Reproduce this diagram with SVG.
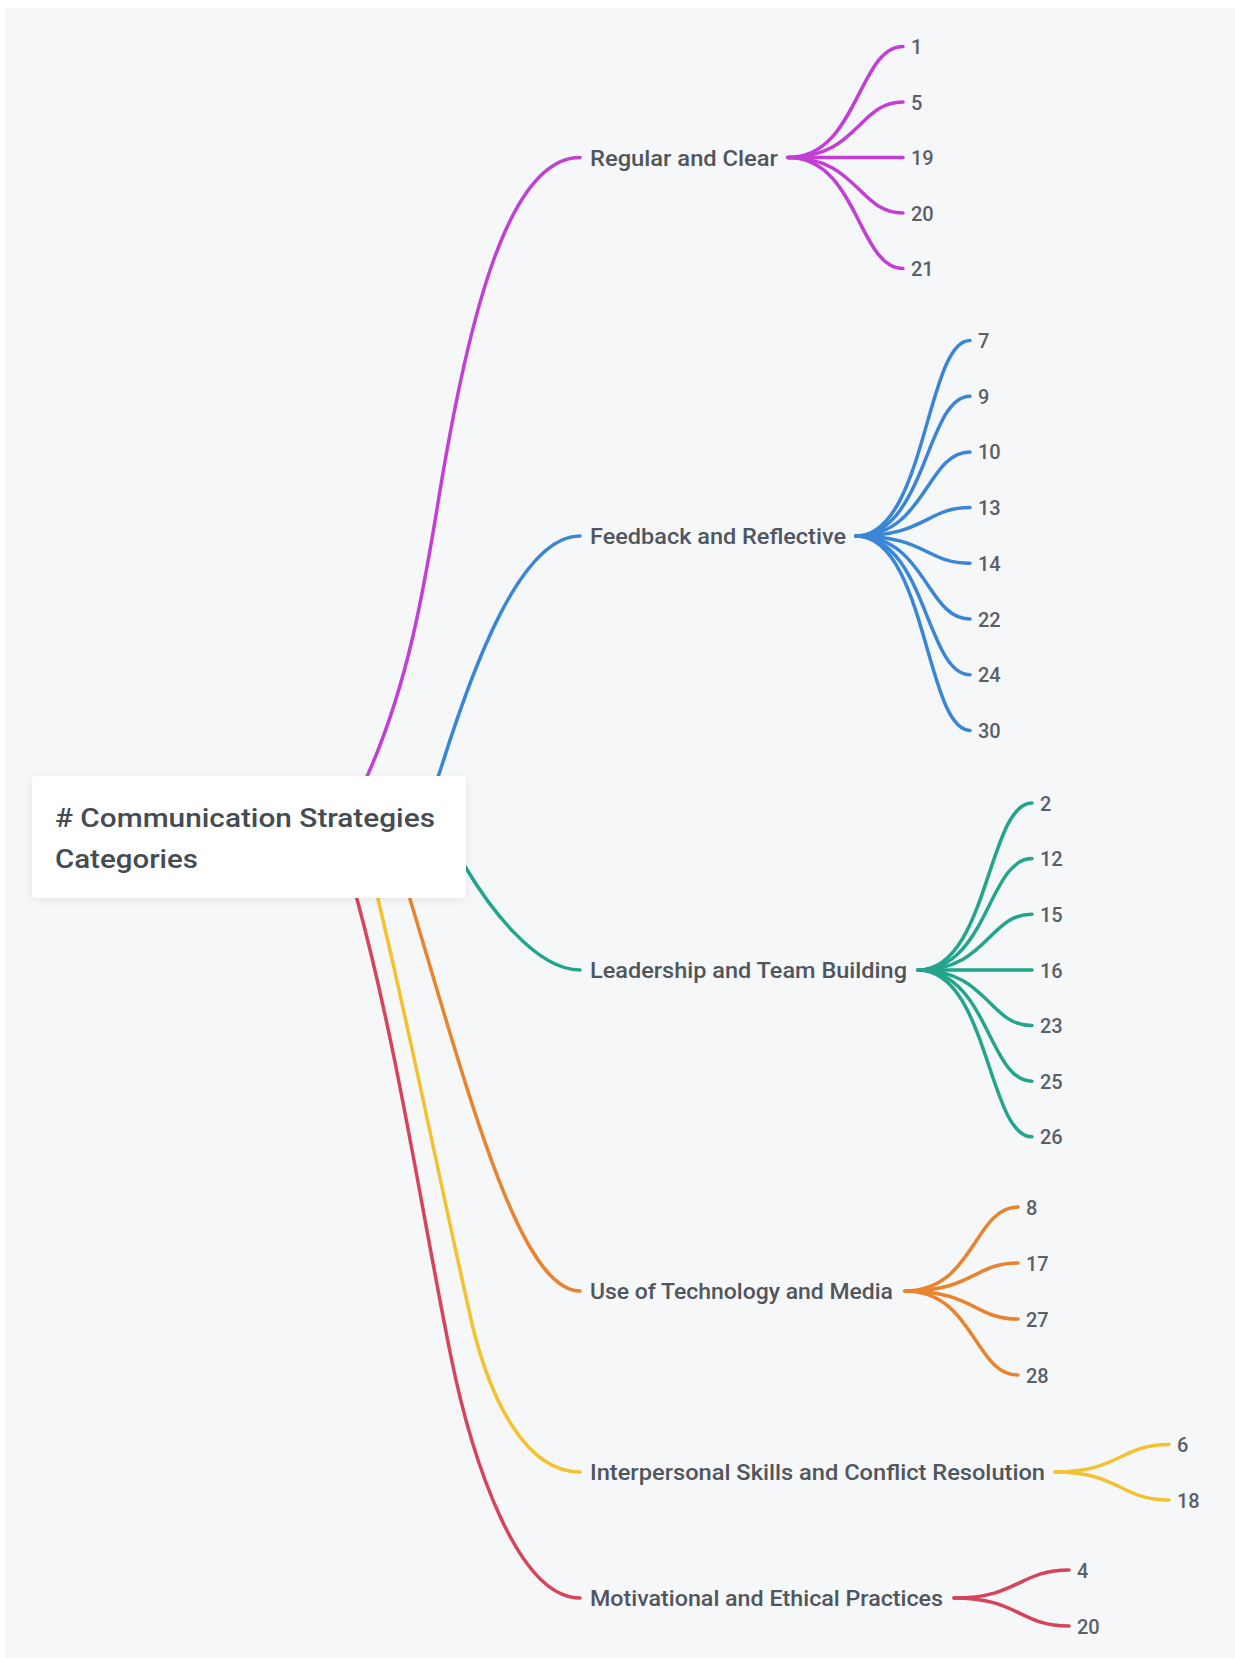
<svg xmlns="http://www.w3.org/2000/svg" width="1235" height="1658" viewBox="0 0 1235 1658">
<style>
.bg{fill:#f6f7f9}
.lnk{fill:none;stroke-width:3.5;stroke-linecap:round}
.purple{stroke:#c23fd6}
.blue{stroke:#3a86d6}
.teal{stroke:#23a58c}
.orange{stroke:#e8842f}
.yellow{stroke:#f3c22e}
.red{stroke:#d6445c}
.root-t{font-family:Roboto,"Liberation Sans",sans-serif;font-size:25px;font-weight:500;fill:#454b52}
.br{font-family:Roboto,"Liberation Sans",sans-serif;font-size:22px;font-weight:500;fill:#50565e}
.num{font-family:Roboto,"Liberation Sans",sans-serif;font-size:20px;font-weight:500;fill:#5a6068}
</style>
<defs>
<filter id="sh" x="-10%" y="-20%" width="120%" height="140%">
<feDropShadow dx="0" dy="2" stdDeviation="4" flood-color="#000" flood-opacity="0.07"/>
</filter>
</defs>
<rect width="1235" height="1658" fill="#ffffff"/>
<rect class="bg" x="5" y="8" width="1230" height="1650"/>

<g id="connectors">
<path class="lnk purple" d="M359,795 L372,765 C408,680 423,594 437,509 C469,309 510,157.5 580,157.5"/>
<path class="lnk blue" d="M433,792 L442,765 C472,670 520,536 580,536"/>
<path class="lnk teal" d="M451,843 L466,868 C488,905 535,970 580,970"/>
<path class="lnk orange" d="M402,873 L410,899 C470,1099 520,1291 580,1291"/>
<path class="lnk yellow" d="M372,873 L378,899 C411.6,1039 441,1188 473,1328 C490.5,1398 525,1472 580,1472"/>
<path class="lnk red" d="M350,873 L357,899 C397.5,1049 420,1202 450,1352 C472,1462 518,1598 580,1598"/>

<path class="lnk purple" d="M788,157.5 C858,157.5 858,46.5 903,46.5"/>
<path class="lnk purple" d="M788,157.5 C858,157.5 858,102 903,102"/>
<path class="lnk purple" d="M788,157.5 L903,157.5"/>
<path class="lnk purple" d="M788,157.5 C858,157.5 858,213 903,213"/>
<path class="lnk purple" d="M788,157.5 C858,157.5 858,268.5 903,268.5"/>

<path class="lnk blue" d="M856,536 C926,536 926,340.5 970,340.5"/>
<path class="lnk blue" d="M856,536 C926,536 926,396.2 970,396.2"/>
<path class="lnk blue" d="M856,536 C926,536 926,451.9 970,451.9"/>
<path class="lnk blue" d="M856,536 C926,536 926,507.6 970,507.6"/>
<path class="lnk blue" d="M856,536 C926,536 926,563.3 970,563.3"/>
<path class="lnk blue" d="M856,536 C926,536 926,619 970,619"/>
<path class="lnk blue" d="M856,536 C926,536 926,674.7 970,674.7"/>
<path class="lnk blue" d="M856,536 C926,536 926,730.4 970,730.4"/>

<path class="lnk teal" d="M918,970 C988,970 988,803 1032,803"/>
<path class="lnk teal" d="M918,970 C988,970 988,858.6 1032,858.6"/>
<path class="lnk teal" d="M918,970 C988,970 988,914.2 1032,914.2"/>
<path class="lnk teal" d="M918,970 L1032,970"/>
<path class="lnk teal" d="M918,970 C988,970 988,1025.6 1032,1025.6"/>
<path class="lnk teal" d="M918,970 C988,970 988,1081.2 1032,1081.2"/>
<path class="lnk teal" d="M918,970 C988,970 988,1136.8 1032,1136.8"/>

<path class="lnk orange" d="M905,1291 C974,1291 974,1207 1018,1207"/>
<path class="lnk orange" d="M905,1291 C974,1291 974,1263 1018,1263"/>
<path class="lnk orange" d="M905,1291 C974,1291 974,1319 1018,1319"/>
<path class="lnk orange" d="M905,1291 C974,1291 974,1375 1018,1375"/>

<path class="lnk yellow" d="M1055,1472 C1120,1472 1120,1444.5 1169,1444.5"/>
<path class="lnk yellow" d="M1055,1472 C1120,1472 1120,1500 1169,1500"/>

<path class="lnk red" d="M954,1598 C1019,1598 1019,1570 1069,1570"/>
<path class="lnk red" d="M954,1598 C1019,1598 1019,1626 1069,1626"/>
</g>

<g id="root">
<rect x="32" y="776" width="434" height="122" rx="4" fill="#ffffff" filter="url(#sh)"/>
<text class="root-t" x="55" y="827" textLength="380" lengthAdjust="spacingAndGlyphs"># Communication Strategies</text>
<text class="root-t" x="55" y="868" textLength="143" lengthAdjust="spacingAndGlyphs">Categories</text>
</g>

<g id="branch-regular"><text class="br" x="590" y="165.5" textLength="188" lengthAdjust="spacingAndGlyphs">Regular and Clear</text></g>
<g id="branch-feedback"><text class="br" x="590" y="544" textLength="256" lengthAdjust="spacingAndGlyphs">Feedback and Reflective</text></g>
<g id="branch-leadership"><text class="br" x="590" y="978" textLength="317" lengthAdjust="spacingAndGlyphs">Leadership and Team Building</text></g>
<g id="branch-technology"><text class="br" x="590" y="1299" textLength="303" lengthAdjust="spacingAndGlyphs">Use of Technology and Media</text></g>
<g id="branch-interpersonal"><text class="br" x="590" y="1480" textLength="455" lengthAdjust="spacingAndGlyphs">Interpersonal Skills and Conflict Resolution</text></g>
<g id="branch-motivational"><text class="br" x="590" y="1606" textLength="353" lengthAdjust="spacingAndGlyphs">Motivational and Ethical Practices</text></g>

<g id="leaves-regular">
<text class="num" x="911" y="54">1</text>
<text class="num" x="911" y="109.5">5</text>
<text class="num" x="911" y="165">19</text>
<text class="num" x="911" y="220.5">20</text>
<text class="num" x="911" y="276">21</text>
</g>
<g id="leaves-feedback">
<text class="num" x="978" y="348">7</text>
<text class="num" x="978" y="403.7">9</text>
<text class="num" x="978" y="459.4">10</text>
<text class="num" x="978" y="515.1">13</text>
<text class="num" x="978" y="570.8">14</text>
<text class="num" x="978" y="626.5">22</text>
<text class="num" x="978" y="682.2">24</text>
<text class="num" x="978" y="737.9">30</text>
</g>
<g id="leaves-leadership">
<text class="num" x="1040" y="810.5">2</text>
<text class="num" x="1040" y="866.1">12</text>
<text class="num" x="1040" y="921.7">15</text>
<text class="num" x="1040" y="977.5">16</text>
<text class="num" x="1040" y="1033.1">23</text>
<text class="num" x="1040" y="1088.7">25</text>
<text class="num" x="1040" y="1144.3">26</text>
</g>
<g id="leaves-technology">
<text class="num" x="1026" y="1214.5">8</text>
<text class="num" x="1026" y="1270.5">17</text>
<text class="num" x="1026" y="1326.5">27</text>
<text class="num" x="1026" y="1382.5">28</text>
</g>
<g id="leaves-interpersonal">
<text class="num" x="1177" y="1452">6</text>
<text class="num" x="1177" y="1507.5">18</text>
</g>
<g id="leaves-motivational">
<text class="num" x="1077" y="1577.5">4</text>
<text class="num" x="1077" y="1633.5">20</text>
</g>
</svg>
